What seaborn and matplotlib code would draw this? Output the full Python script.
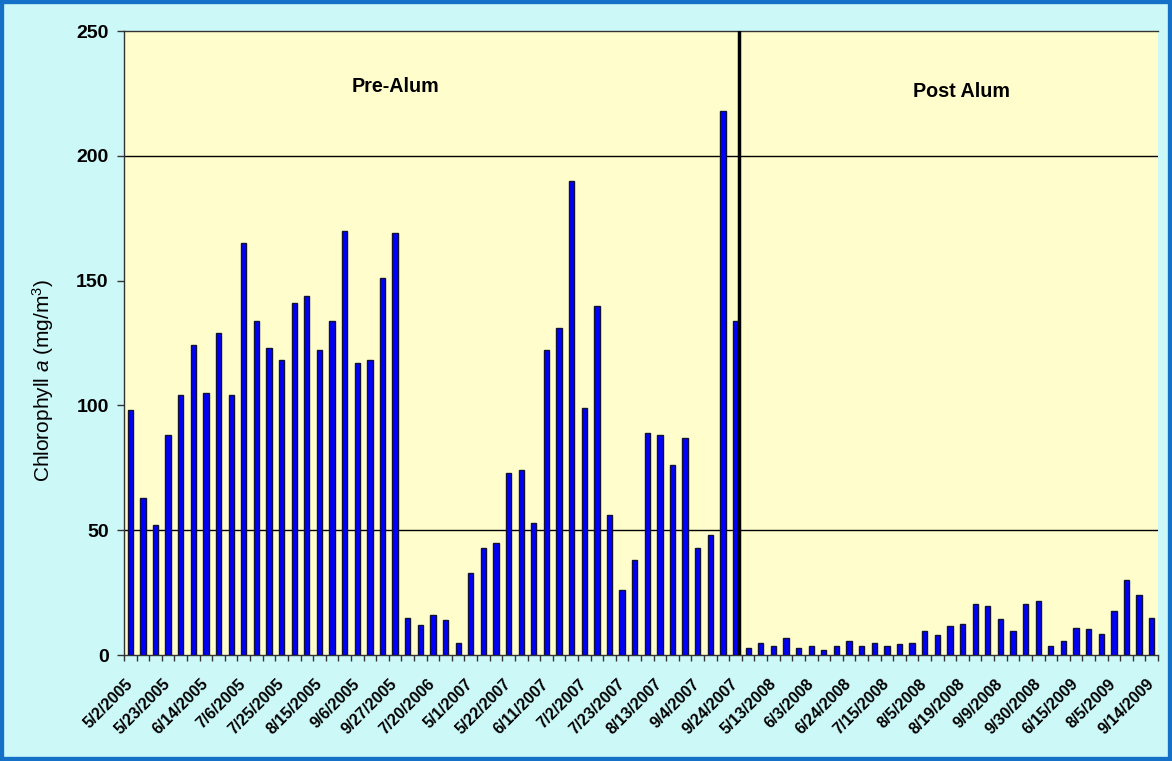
import matplotlib
matplotlib.use("Agg")
import matplotlib.pyplot as plt
from matplotlib.patches import Rectangle
from matplotlib.ticker import FixedLocator
import seaborn as sns
import pandas as pd
import numpy as np

# chlorophyll a per sampling date (mg/m3)
chl_a = [98, 63, 52, 88, 104, 124, 105, 129, 104, 165,
         134, 123, 118, 141, 144, 122, 134, 170, 117, 118,
         151, 169, 15, 12, 16, 14, 5, 33, 43, 45,
         73, 74, 53, 122, 131, 190, 99, 140, 56, 26,
         38, 89, 88, 76, 87, 43, 48, 218, 134, 3,
         5, 3.5, 7, 3, 3.5, 2, 3.5, 5.5, 3.5, 5,
         3.5, 4.5, 5, 9.5, 8, 11.5, 12.5, 20.5, 19.5, 14.5,
         9.5, 20.5, 21.5, 3.5, 5.5, 11, 10.5, 8.5, 17.5, 30,
         24, 15]

# only every third date is labelled on the axis
date_labels = ["5/2/2005", "5/23/2005", "6/14/2005", "7/6/2005", "7/25/2005",
               "8/15/2005", "9/6/2005", "9/27/2005", "7/20/2006", "5/1/2007",
               "5/22/2007", "6/11/2007", "7/2/2007", "7/23/2007", "8/13/2007",
               "9/4/2007", "9/24/2007", "5/13/2008", "6/3/2008", "6/24/2008",
               "7/15/2008", "8/5/2008", "8/19/2008", "9/9/2008", "9/30/2008",
               "6/15/2009", "8/5/2009", "9/14/2009"]
label_every = 3

ref_levels = [50, 200]   # horizontal reference lines
alum_split = 48.3        # treatment line between last pre and first post sample
period_names = ["Pre-Alum", "Post Alum"]

df = pd.DataFrame({"sample": np.arange(len(chl_a)), "chl": chl_a})

plt.rcParams["font.family"] = ["Liberation Sans", "DejaVu Sans"]
plt.rcParams["mathtext.fontset"] = "custom"
plt.rcParams["mathtext.rm"] = "Liberation Sans"
plt.rcParams["mathtext.it"] = "Liberation Sans:italic"

fig = plt.figure(figsize=(11.72, 7.61), dpi=100)
fig.patch.set_facecolor("#CCF8F8")
ax = fig.add_axes([124 / 1172, 1 - 655 / 761, (1158 - 124) / 1172, (655 - 31) / 761])
ax.set_facecolor("#FFFDCB")

sns.barplot(data=df, x="sample", y="chl", color="#0000FF", width=0.42,
            edgecolor="#111133", linewidth=1.0, saturation=1, ax=ax, zorder=3)

for lvl in ref_levels:
    ax.axhline(lvl, color="black", linewidth=1.0, zorder=2)
ax.axvline(alum_split, color="black", linewidth=2.5, zorder=4)

ax.set_xlim(-0.5, len(chl_a) - 0.5)
ax.set_ylim(0, 250)
ax.set_yticks([0, 50, 100, 150, 200, 250])
ax.tick_params(axis="y", labelsize=14, length=5, width=1, color="#333333", pad=6)
for t in ax.get_yticklabels():
    t.set_fontweight("bold")

tick_pos = np.arange(0, len(chl_a), label_every)
ax.set_xticks(tick_pos)
ax.set_xticklabels(date_labels, rotation=45, ha="right", va="center",
                   rotation_mode="anchor", fontsize=11.5, fontweight="bold")
ax.tick_params(axis="x", which="major", length=0, pad=19)
ax.xaxis.set_minor_locator(FixedLocator(np.arange(-0.5, len(chl_a), 1)))
ax.tick_params(axis="x", which="minor", length=4, width=1, color="#333333")

ax.set_xlabel("")
ax.set_ylabel("Chlorophyll $\\mathit{a}$ (mg/m$^3$)", fontsize=15)
ax.yaxis.set_label_coords(-0.066, 0.44)

for s in ["left", "bottom", "top"]:
    ax.spines[s].set_color("#333333")
    ax.spines[s].set_linewidth(1)
ax.spines["right"].set_visible(False)

ax.text(21.0, 227.6, period_names[0], ha="center", va="center",
        fontsize=14.2, fontweight="bold")
ax.text(65.9, 225.7, period_names[1], ha="center", va="center",
        fontsize=14.2, fontweight="bold")

fig.add_artist(Rectangle((0, 0), 1, 1, transform=fig.transFigure, fill=False,
                         edgecolor="#1570C8", linewidth=6))

fig.savefig("out.png", dpi=100, facecolor=fig.get_facecolor())
